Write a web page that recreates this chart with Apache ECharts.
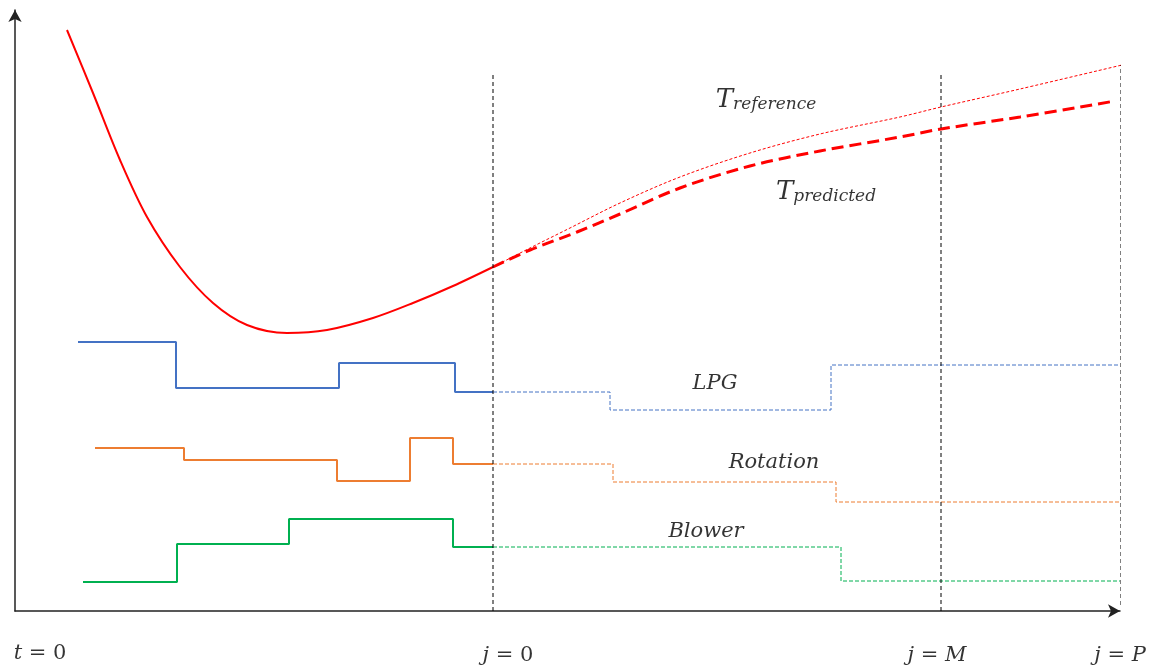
<!DOCTYPE html>
<html><head><meta charset="utf-8">
<script src="https://cdn.jsdelivr.net/npm/echarts@6/dist/echarts.min.js"></script>
<style>html,body{margin:0;padding:0;background:#fff}#c{width:1158px;height:669px}</style>
</head><body><div id="c"></div>
<script>
// Temperature (past, solid)
const tPastX = [52, 78, 105, 132, 165, 198, 232, 272, 312, 358, 398, 438, 478];
const tPastY = [581, 518, 451, 394, 344, 308, 286, 278, 281, 293, 308, 325, 344];
// Reference trajectory
const tRefX = [478, 515, 555, 605, 665, 735, 805, 885, 926, 1005, 1107];
const tRefY = [344, 363, 383, 408, 434, 458, 477, 494, 504, 522, 546];
// Predicted trajectory
const tPredX = [478, 515, 562, 605, 665, 735, 805, 885, 926, 1005, 1100];
const tPredY = [344, 361, 379, 397, 423, 445, 460, 474, 482, 494, 510];
// LPG
const lpgPastX = [63, 161, 324, 440, 478];
const lpgPastY = [269, 223, 248, 219, 219];
const lpgFutX = [478, 595, 816, 1105];
const lpgFutY = [219, 201, 246, 246];
// Rotation
const rotPastX = [80, 169, 322, 395, 438, 478];
const rotPastY = [163, 151, 130, 173, 147, 147];
const rotFutX = [478, 598, 821, 1105];
const rotFutY = [147, 129, 109, 109];
// Blower
const blwPastX = [68, 162, 274, 438, 478];
const blwPastY = [29, 67, 92, 64, 64];
const blwFutX = [478, 826, 1105];
const blwFutY = [64, 30, 30];
// Horizon markers
const markerX = [478, 926, 1106];
const markerTop = [538, 538, 546];
const markerBottom = [0, 0, 6];
// Axis annotations
const tickLabels = ['t = 0', 'j = 0', 'j = M', 'j = P'];
const tickLabelX = [25, 493, 922, 1105];
const tickLabelY = [-43, -45, -45, -45];

const zip = (xs, ys) => xs.map((x, i) => [x, ys[i]]);
const serif = 'DejaVu Serif';

function tickRich(s) {
  const parts = s.split(' = ');
  const right = /^[0-9]+$/.test(parts[1]) ? '{n|' + parts[1] + '}' : '{i|' + parts[1] + '}';
  return '{i|' + parts[0] + '}{n| = }' + right;
}

const series = [];
function stepLine(xs, ys, color, dashed) {
  series.push({
    type: 'line', step: 'end', data: zip(xs, ys), symbol: 'none', silent: true,
    lineStyle: dashed ? { color: color, width: 1, type: [4, 2] } : { color: color, width: 2 }
  });
}
series.push({ type: 'line', smooth: 0.33, data: zip(tPastX, tPastY), symbol: 'none', silent: true,
  lineStyle: { color: '#ff0000', width: 2 } });
series.push({ type: 'line', smooth: 0.33, data: zip(tRefX, tRefY), symbol: 'none', silent: true,
  lineStyle: { color: '#ff0000', width: 1, type: [3, 2] } });
series.push({ type: 'line', smooth: 0.33, data: zip(tPredX, tPredY), symbol: 'none', silent: true,
  lineStyle: { color: '#ff0000', width: 3, type: [12, 6] } });
stepLine(lpgPastX, lpgPastY, '#4472C4', false);
stepLine(lpgFutX, lpgFutY, '#4472C4', true);
stepLine(rotPastX, rotPastY, '#ED7D31', false);
stepLine(rotFutX, rotFutY, '#ED7D31', true);
stepLine(blwPastX, blwPastY, '#00B050', false);
stepLine(blwFutX, blwFutY, '#00B050', true);
markerX.forEach((x, i) => {
  series.push({ type: 'line', data: [[x, markerBottom[i]], [x, markerTop[i]]], symbol: 'none', silent: true,
    lineStyle: { color: '#000', width: 1, type: [4, 3] } });
});

const italic = { fontFamily: serif, fontStyle: 'italic', fontSize: 21, color: '#000' };
const textLabels = [
  { pos: [751, 513], text: '{T|T}{s|reference}' },
  { pos: [811, 421], text: '{T|T}{s|predicted}' },
  { pos: [700, 227], text: '{i|LPG}' },
  { pos: [759, 148], text: '{i|Rotation}' },
  { pos: [691, 79], text: '{i|Blower}' }
];
const rich = {
  i: italic,
  n: { fontFamily: serif, fontSize: 21, color: '#000' },
  T: { fontFamily: serif, fontStyle: 'italic', fontSize: 26, color: '#000', lineHeight: 30, verticalAlign: 'bottom' },
  s: { fontFamily: serif, fontStyle: 'italic', fontSize: 17, color: '#000', lineHeight: 17, padding: [12, 0, 0, 0], verticalAlign: 'bottom' }
};
series.push({
  type: 'scatter', clip: false, symbolSize: 0, silent: true,
  data: textLabels.map(d => ({ value: d.pos, label: { formatter: d.text } })),
  label: { show: true, position: 'inside', color: '#000', rich: rich }
});
series.push({
  type: 'scatter', clip: false, symbolSize: 0, silent: true,
  data: tickLabels.map((t, i) => ({ value: [tickLabelX[i], tickLabelY[i]], label: { formatter: tickRich(t) } })),
  label: { show: true, position: 'inside', color: '#000', rich: rich }
});

const chart = echarts.init(document.getElementById('c'), null, { renderer: 'canvas' });
chart.setOption({
  animation: false,
  backgroundColor: '#fff',
  grid: { left: 15, right: 38, top: 10, bottom: 58, containLabel: false },
  xAxis: { type: 'value', min: 0, max: 1105,
    axisLine: { show: true, lineStyle: { color: '#222', width: 1.5 }, symbol: ['none', 'arrow'], symbolSize: [10, 12] },
    axisTick: { show: false }, axisLabel: { show: false }, splitLine: { show: false } },
  yAxis: { type: 'value', min: 0, max: 601,
    axisLine: { show: true, onZero: false, lineStyle: { color: '#222', width: 1.5 }, symbol: ['none', 'arrow'], symbolSize: [10, 12] },
    axisTick: { show: false }, axisLabel: { show: false }, splitLine: { show: false } },
  series: series
});
</script></body></html>
